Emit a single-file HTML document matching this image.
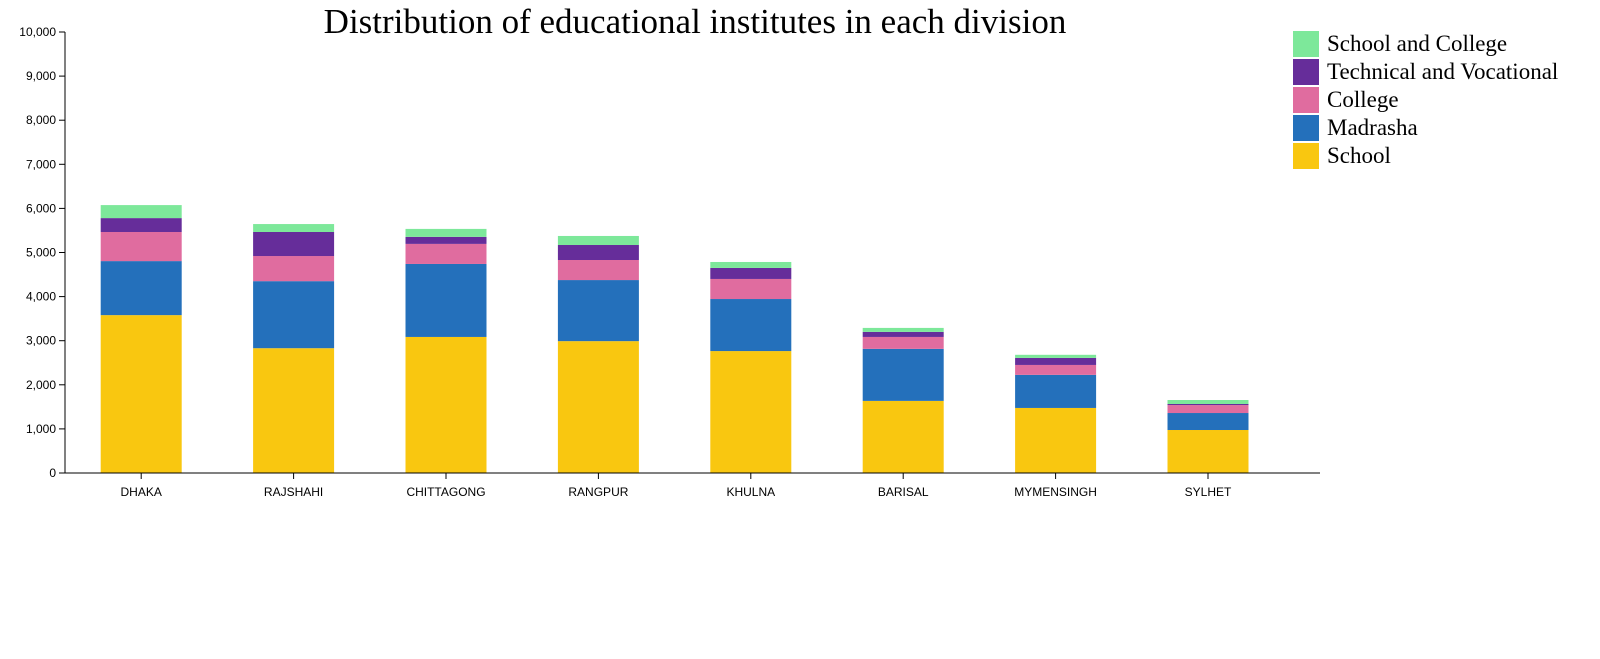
<!DOCTYPE html>
<html><head><meta charset="utf-8"><style>
body{margin:0;background:#fff;}
svg text{font-family:"Liberation Sans",sans-serif;}
</style></head><body>
<svg id="chart" width="1600" height="654" xmlns="http://www.w3.org/2000/svg">
<text x="695" y="33" text-anchor="middle" style="font-family:'Liberation Serif',serif;font-size:35px" fill="#000">Distribution of educational institutes in each division</text>
<g id="bars"></g>
<g id="yaxis"></g>
<g id="xaxis"></g>
<g id="legend"></g>
</svg>
<script>
const categories=["DHAKA","RAJSHAHI","CHITTAGONG","RANGPUR","KHULNA","BARISAL","MYMENSINGH","SYLHET"];
const school=[3580,2830,3085,2990,2765,1635,1475,975];
const madrasha=[1225,1520,1655,1385,1180,1180,750,385];
const college=[660,570,455,455,455,270,225,180];
const technical=[315,545,160,340,250,115,160,25];
const schoolCollege=[295,180,180,205,135,90,70,90];
const yTicks=[0,1000,2000,3000,4000,5000,6000,7000,8000,9000,10000];
const seriesNames=["School","Madrasha","College","Technical and Vocational","School and College"];
const seriesData=[school,madrasha,college,technical,schoolCollege];
const colors=["#f9c710","#2470bb","#e06c9f","#662d9a","#7de89a"];
const NS="http://www.w3.org/2000/svg";
const y0=473,y1=32,yMax=10000;
const y=v=>y0-(y0-y1)*v/yMax;
const step=152.4,left=65,bw=81;
const xc=i=>left+step*(i+0.5);
function mk(t,a,p){const e=document.createElementNS(NS,t);for(const k in a)e.setAttribute(k,a[k]);p.appendChild(e);return e;}
const bars=document.getElementById('bars');
categories.forEach((c,i)=>{let cum=0;seriesData.forEach((s,j)=>{const v=s[i];const r=mk('rect',{x:xc(i)-bw/2,y:y(cum+v),width:bw,height:y(cum)-y(cum+v),fill:colors[j]},bars);


cum+=v;});});
const ya=document.getElementById('yaxis');
mk('line',{x1:65,x2:65,y1:y1,y2:y0,stroke:'#000'},ya);
yTicks.forEach(t=>{mk('line',{x1:59,x2:65,y1:y(t),y2:y(t),stroke:'#000'},ya);
const tx=mk('text',{x:56,y:y(t)+4,'text-anchor':'end','font-size':'12'},ya);tx.textContent=t.toLocaleString('en-US');

});
const xa=document.getElementById('xaxis');
mk('line',{x1:65,x2:1320,y1:y0,y2:y0,stroke:'#000'},xa);
categories.forEach((c,i)=>{mk('line',{x1:xc(i),x2:xc(i),y1:y0,y2:y0+6,stroke:'#000'},xa);
const tx=mk('text',{x:xc(i),y:496,'text-anchor':'middle','font-size':'12'},xa);tx.textContent=c;

});
const lg=document.getElementById('legend');
for(let k=0;k<5;k++){const j=4-k;const yy=31+k*28;
const r=mk('rect',{x:1293,y:yy,width:26,height:26,fill:colors[j]},lg);


const t=mk('text',{x:1327,y:yy+20,'font-size':'23',style:"font-family:'Liberation Serif',serif"},lg);t.textContent=seriesNames[j];

}
</script>
</body></html>
